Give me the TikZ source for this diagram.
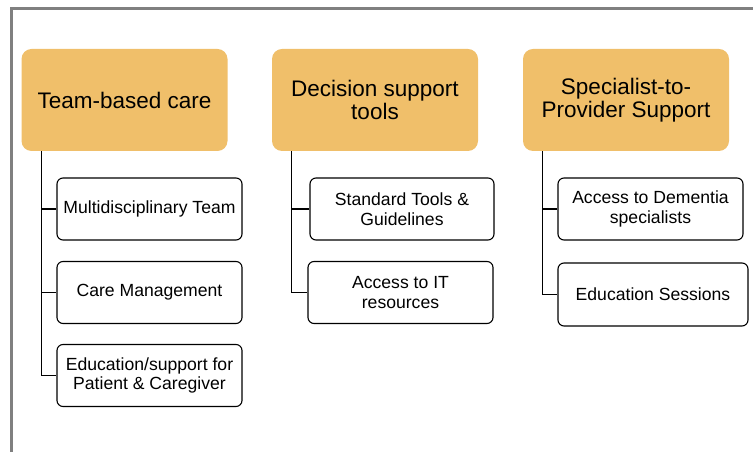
\documentclass[tikz,border=0pt]{standalone}
\usepackage{fontspec}
\setmainfont{Liberation Sans}
\usepackage{xcolor}
\usetikzlibrary{shapes,arrows}
\definecolor{headorange}{RGB}{240,191,106}
\tikzset{
  topbox/.style={fill=headorange, rounded corners=10pt, minimum width=206pt,
    minimum height=102pt, align=center, font=\fontsize{22.5}{23.5}\selectfont},
  subbox/.style={draw, line width=1.1pt, fill=white, rounded corners=6pt,
    minimum height=62pt, align=center, font=\fontsize{17.6}{19.5}\selectfont},
  link/.style={draw, line width=1.1pt}
}
\begin{document}
\begin{tikzpicture}[x=1pt,y=1pt]
	\useasboundingbox (0,0) rectangle (753,452);
	\draw[gray, line width=3pt] (11,0) -- (11,443) -- (753,443);
	% top boxes
	\node[topbox] (tbc) at (124.5,352) {Team-based care};
	\node[topbox] (dst) at (375,352) {Decision support\\tools};
	\node[topbox] (stp) at (626,352) {Specialist-to-\\Provider Support};
	% first column
	\node[subbox, minimum width=185pt] (mdt) at (149.5,243) {Multidisciplinary Team};
	\node[subbox, minimum width=185pt] (cm) at (149.5,159.5) {Care Management};
	\node[subbox, minimum width=185pt] (edu) at (149.5,76.5) {Education/support for\\Patient \& Caregiver};
	% second column
	\node[subbox, minimum width=184pt] (std) at (402,243) {Standard Tools \&\\Guidelines};
	\node[subbox, minimum width=185pt] (it) at (400.5,159.5) {Access to IT\\resources};
	% third column
	\node[subbox, minimum width=185pt] (spec) at (650.5,243) {Access to Dementia\\specialists};
	\node[subbox, minimum width=190pt, minimum height=63pt] (ses) at (653,157.5) {Education Sessions};
	% connectors
	\foreach \c in {mdt,cm,edu}
		\draw[link] (tbc.south west) ++(20,0) |- (\c.west);
	\foreach \c in {std,it}
		\draw[link] (dst.south west) ++(20,0) |- (\c.west);
	\foreach \c in {spec,ses}
		\draw[link] (stp.south west) ++(20,0) |- (\c.west);
\end{tikzpicture}
\end{document}
